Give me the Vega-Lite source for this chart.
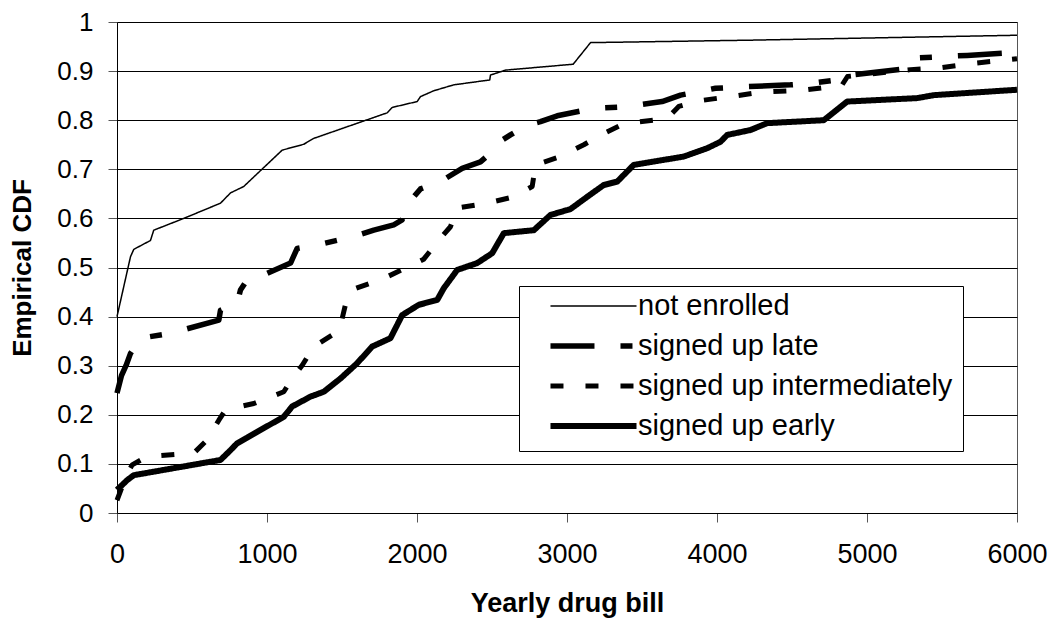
{
  "$schema": "https://vega.github.io/schema/vega-lite/v6.json",
  "width": 900,
  "height": 491,
  "autosize": {"type": "none"},
  "padding": {"left": 117, "top": 22, "right": 36, "bottom": 111},
  "background": "white",
  "config": {
    "font": "Liberation Sans",
    "view": {"stroke": "#555", "strokeWidth": 1}
  },
  "data": {
    "values": [
      {"g": "not enrolled", "x": 0, "y": 0.40},
      {"g": "not enrolled", "x": 90, "y": 0.522},
      {"g": "not enrolled", "x": 112, "y": 0.537},
      {"g": "not enrolled", "x": 223, "y": 0.555},
      {"g": "not enrolled", "x": 245, "y": 0.576},
      {"g": "not enrolled", "x": 445, "y": 0.600},
      {"g": "not enrolled", "x": 690, "y": 0.631},
      {"g": "not enrolled", "x": 757, "y": 0.652},
      {"g": "not enrolled", "x": 845, "y": 0.665},
      {"g": "not enrolled", "x": 1101, "y": 0.739},
      {"g": "not enrolled", "x": 1245, "y": 0.751},
      {"g": "not enrolled", "x": 1312, "y": 0.763},
      {"g": "not enrolled", "x": 1801, "y": 0.815},
      {"g": "not enrolled", "x": 1835, "y": 0.826},
      {"g": "not enrolled", "x": 2001, "y": 0.838},
      {"g": "not enrolled", "x": 2023, "y": 0.848},
      {"g": "not enrolled", "x": 2112, "y": 0.860},
      {"g": "not enrolled", "x": 2245, "y": 0.872},
      {"g": "not enrolled", "x": 2485, "y": 0.882},
      {"g": "not enrolled", "x": 2490, "y": 0.892},
      {"g": "not enrolled", "x": 2590, "y": 0.902},
      {"g": "not enrolled", "x": 3041, "y": 0.914},
      {"g": "not enrolled", "x": 3157, "y": 0.958},
      {"g": "not enrolled", "x": 4223, "y": 0.963},
      {"g": "not enrolled", "x": 6000, "y": 0.973},

      {"g": "signed up late", "x": 0, "y": 0.244},
      {"g": "signed up late", "x": 30, "y": 0.28},
      {"g": "signed up late", "x": 60, "y": 0.30},
      {"g": "signed up late", "x": 90, "y": 0.325},
      {"g": "signed up late", "x": 157, "y": 0.356},
      {"g": "signed up late", "x": 357, "y": 0.366},
      {"g": "signed up late", "x": 679, "y": 0.393},
      {"g": "signed up late", "x": 690, "y": 0.413},
      {"g": "signed up late", "x": 801, "y": 0.427},
      {"g": "signed up late", "x": 823, "y": 0.454},
      {"g": "signed up late", "x": 868, "y": 0.475},
      {"g": "signed up late", "x": 1001, "y": 0.488},
      {"g": "signed up late", "x": 1157, "y": 0.509},
      {"g": "signed up late", "x": 1201, "y": 0.539},
      {"g": "signed up late", "x": 1335, "y": 0.546},
      {"g": "signed up late", "x": 1579, "y": 0.563},
      {"g": "signed up late", "x": 1712, "y": 0.576},
      {"g": "signed up late", "x": 1845, "y": 0.587},
      {"g": "signed up late", "x": 1901, "y": 0.597},
      {"g": "signed up late", "x": 1935, "y": 0.628},
      {"g": "signed up late", "x": 2023, "y": 0.660},
      {"g": "signed up late", "x": 2157, "y": 0.675},
      {"g": "signed up late", "x": 2301, "y": 0.702},
      {"g": "signed up late", "x": 2423, "y": 0.715},
      {"g": "signed up late", "x": 2501, "y": 0.736},
      {"g": "signed up late", "x": 2535, "y": 0.753},
      {"g": "signed up late", "x": 2623, "y": 0.770},
      {"g": "signed up late", "x": 2735, "y": 0.790},
      {"g": "signed up late", "x": 2823, "y": 0.797},
      {"g": "signed up late", "x": 2935, "y": 0.809},
      {"g": "signed up late", "x": 3179, "y": 0.824},
      {"g": "signed up late", "x": 3379, "y": 0.827},
      {"g": "signed up late", "x": 3634, "y": 0.838},
      {"g": "signed up late", "x": 3757, "y": 0.851},
      {"g": "signed up late", "x": 3990, "y": 0.865},
      {"g": "signed up late", "x": 4179, "y": 0.868},
      {"g": "signed up late", "x": 4490, "y": 0.872},
      {"g": "signed up late", "x": 4646, "y": 0.876},
      {"g": "signed up late", "x": 4823, "y": 0.883},
      {"g": "signed up late", "x": 4870, "y": 0.891},
      {"g": "signed up late", "x": 5290, "y": 0.906},
      {"g": "signed up late", "x": 5340, "y": 0.927},
      {"g": "signed up late", "x": 5668, "y": 0.932},
      {"g": "signed up late", "x": 6000, "y": 0.938},

      {"g": "signed up intermediately", "x": 0, "y": 0.026},
      {"g": "signed up intermediately", "x": 30, "y": 0.05},
      {"g": "signed up intermediately", "x": 57, "y": 0.074},
      {"g": "signed up intermediately", "x": 101, "y": 0.098},
      {"g": "signed up intermediately", "x": 201, "y": 0.115},
      {"g": "signed up intermediately", "x": 512, "y": 0.122},
      {"g": "signed up intermediately", "x": 601, "y": 0.149},
      {"g": "signed up intermediately", "x": 679, "y": 0.189},
      {"g": "signed up intermediately", "x": 723, "y": 0.210},
      {"g": "signed up intermediately", "x": 912, "y": 0.223},
      {"g": "signed up intermediately", "x": 1112, "y": 0.247},
      {"g": "signed up intermediately", "x": 1168, "y": 0.274},
      {"g": "signed up intermediately", "x": 1235, "y": 0.301},
      {"g": "signed up intermediately", "x": 1312, "y": 0.339},
      {"g": "signed up intermediately", "x": 1490, "y": 0.373},
      {"g": "signed up intermediately", "x": 1501, "y": 0.396},
      {"g": "signed up intermediately", "x": 1535, "y": 0.440},
      {"g": "signed up intermediately", "x": 1579, "y": 0.456},
      {"g": "signed up intermediately", "x": 1779, "y": 0.478},
      {"g": "signed up intermediately", "x": 1912, "y": 0.497},
      {"g": "signed up intermediately", "x": 2045, "y": 0.517},
      {"g": "signed up intermediately", "x": 2135, "y": 0.552},
      {"g": "signed up intermediately", "x": 2223, "y": 0.583},
      {"g": "signed up intermediately", "x": 2268, "y": 0.621},
      {"g": "signed up intermediately", "x": 2468, "y": 0.631},
      {"g": "signed up intermediately", "x": 2645, "y": 0.644},
      {"g": "signed up intermediately", "x": 2768, "y": 0.665},
      {"g": "signed up intermediately", "x": 2790, "y": 0.709},
      {"g": "signed up intermediately", "x": 2957, "y": 0.726},
      {"g": "signed up intermediately", "x": 3112, "y": 0.750},
      {"g": "signed up intermediately", "x": 3245, "y": 0.773},
      {"g": "signed up intermediately", "x": 3379, "y": 0.793},
      {"g": "signed up intermediately", "x": 3579, "y": 0.800},
      {"g": "signed up intermediately", "x": 3668, "y": 0.804},
      {"g": "signed up intermediately", "x": 3745, "y": 0.828},
      {"g": "signed up intermediately", "x": 3890, "y": 0.840},
      {"g": "signed up intermediately", "x": 4112, "y": 0.849},
      {"g": "signed up intermediately", "x": 4290, "y": 0.857},
      {"g": "signed up intermediately", "x": 4568, "y": 0.861},
      {"g": "signed up intermediately", "x": 4700, "y": 0.866},
      {"g": "signed up intermediately", "x": 4830, "y": 0.870},
      {"g": "signed up intermediately", "x": 4870, "y": 0.889},
      {"g": "signed up intermediately", "x": 5290, "y": 0.903},
      {"g": "signed up intermediately", "x": 5468, "y": 0.906},
      {"g": "signed up intermediately", "x": 5712, "y": 0.916},
      {"g": "signed up intermediately", "x": 6000, "y": 0.925},

      {"g": "signed up early", "x": 0, "y": 0.047},
      {"g": "signed up early", "x": 68, "y": 0.067},
      {"g": "signed up early", "x": 112, "y": 0.077},
      {"g": "signed up early", "x": 690, "y": 0.108},
      {"g": "signed up early", "x": 757, "y": 0.128},
      {"g": "signed up early", "x": 801, "y": 0.142},
      {"g": "signed up early", "x": 1112, "y": 0.196},
      {"g": "signed up early", "x": 1168, "y": 0.217},
      {"g": "signed up early", "x": 1290, "y": 0.237},
      {"g": "signed up early", "x": 1379, "y": 0.247},
      {"g": "signed up early", "x": 1490, "y": 0.274},
      {"g": "signed up early", "x": 1601, "y": 0.305},
      {"g": "signed up early", "x": 1701, "y": 0.339},
      {"g": "signed up early", "x": 1823, "y": 0.356},
      {"g": "signed up early", "x": 1901, "y": 0.403},
      {"g": "signed up early", "x": 2012, "y": 0.424},
      {"g": "signed up early", "x": 2135, "y": 0.434},
      {"g": "signed up early", "x": 2179, "y": 0.458},
      {"g": "signed up early", "x": 2268, "y": 0.495},
      {"g": "signed up early", "x": 2401, "y": 0.509},
      {"g": "signed up early", "x": 2501, "y": 0.529},
      {"g": "signed up early", "x": 2579, "y": 0.570},
      {"g": "signed up early", "x": 2779, "y": 0.576},
      {"g": "signed up early", "x": 2890, "y": 0.607},
      {"g": "signed up early", "x": 3023, "y": 0.619},
      {"g": "signed up early", "x": 3135, "y": 0.644},
      {"g": "signed up early", "x": 3245, "y": 0.668},
      {"g": "signed up early", "x": 3335, "y": 0.675},
      {"g": "signed up early", "x": 3445, "y": 0.709},
      {"g": "signed up early", "x": 3779, "y": 0.726},
      {"g": "signed up early", "x": 3935, "y": 0.743},
      {"g": "signed up early", "x": 4023, "y": 0.756},
      {"g": "signed up early", "x": 4068, "y": 0.770},
      {"g": "signed up early", "x": 4223, "y": 0.780},
      {"g": "signed up early", "x": 4335, "y": 0.794},
      {"g": "signed up early", "x": 4712, "y": 0.800},
      {"g": "signed up early", "x": 4868, "y": 0.838},
      {"g": "signed up early", "x": 5335, "y": 0.845},
      {"g": "signed up early", "x": 5445, "y": 0.851},
      {"g": "signed up early", "x": 6000, "y": 0.862}
    ]
  },
  "mark": {"type": "line", "color": "#000", "strokeCap": "butt", "strokeJoin": "round"},
  "encoding": {
    "x": {
      "field": "x", "type": "quantitative",
      "scale": {"domain": [0, 6000], "nice": false, "zero": false},
      "axis": {
        "title": "Yearly drug bill",
        "values": [0, 1000, 2000, 3000, 4000, 5000, 6000],
        "format": "d",
        "grid": false,
        "domainColor": "#000", "domainWidth": 1,
        "tickColor": "#555", "tickSize": 9, "tickWidth": 1,
        "labelFont": "Liberation Sans", "labelFontSize": 27, "labelColor": "#000", "labelPadding": 19,
        "labelFlush": false, "labelOverlap": false,
        "titleFont": "Liberation Sans", "titleFontSize": 27, "titleFontWeight": "bold", "titleColor": "#000", "titlePadding": 23
      }
    },
    "y": {
      "field": "y", "type": "quantitative",
      "scale": {"domain": [0, 1], "nice": false, "zero": false},
      "axis": {
        "title": "Empirical CDF",
        "values": [0, 0.1, 0.2, 0.3, 0.4, 0.5, 0.6, 0.7, 0.8, 0.9, 1],
        "format": ".1~f",
        "grid": true, "gridColor": "#000", "gridWidth": 1, "gridOpacity": 1,
        "domainColor": "#000", "domainWidth": 1,
        "tickColor": "#555", "tickSize": 9, "tickWidth": 1,
        "labelFont": "Liberation Sans", "labelFontSize": 26, "labelColor": "#000", "labelPadding": 15,
        "labelFlush": false, "labelOverlap": false,
        "titleFont": "Liberation Sans", "titleFontSize": 26, "titleFontWeight": "bold", "titleColor": "#000", "titlePadding": 21
      }
    },
    "strokeDash": {
      "field": "g", "type": "nominal",
      "scale": {
        "domain": ["not enrolled", "signed up late", "signed up intermediately", "signed up early"],
        "range": [[1, 0], [44, 26, 12, 26], [13, 22], [1, 0]]
      },
      "legend": {
        "title": null,
        "orient": "none",
        "legendX": 402,
        "legendY": 264,
        "padding": 10,
        "strokeColor": "#000",
        "fillColor": "#fff",
        "symbolType": "stroke",
        "symbolSize": 7400,
        "symbolStrokeColor": "#000",
        "symbolOffset": 18,
        "clipHeight": 20,
        "rowPadding": 11,
        "labelOffset": -2,
        "labelFont": "Liberation Sans",
        "labelFontSize": 29,
        "labelColor": "#000",
        "labelLimit": 400
      }
    },
    "strokeWidth": {
      "field": "g", "type": "nominal",
      "scale": {
        "type": "ordinal",
        "domain": ["not enrolled", "signed up late", "signed up intermediately", "signed up early"],
        "range": [1.5, 5.5, 5, 6]
      }
    }
  }
}
